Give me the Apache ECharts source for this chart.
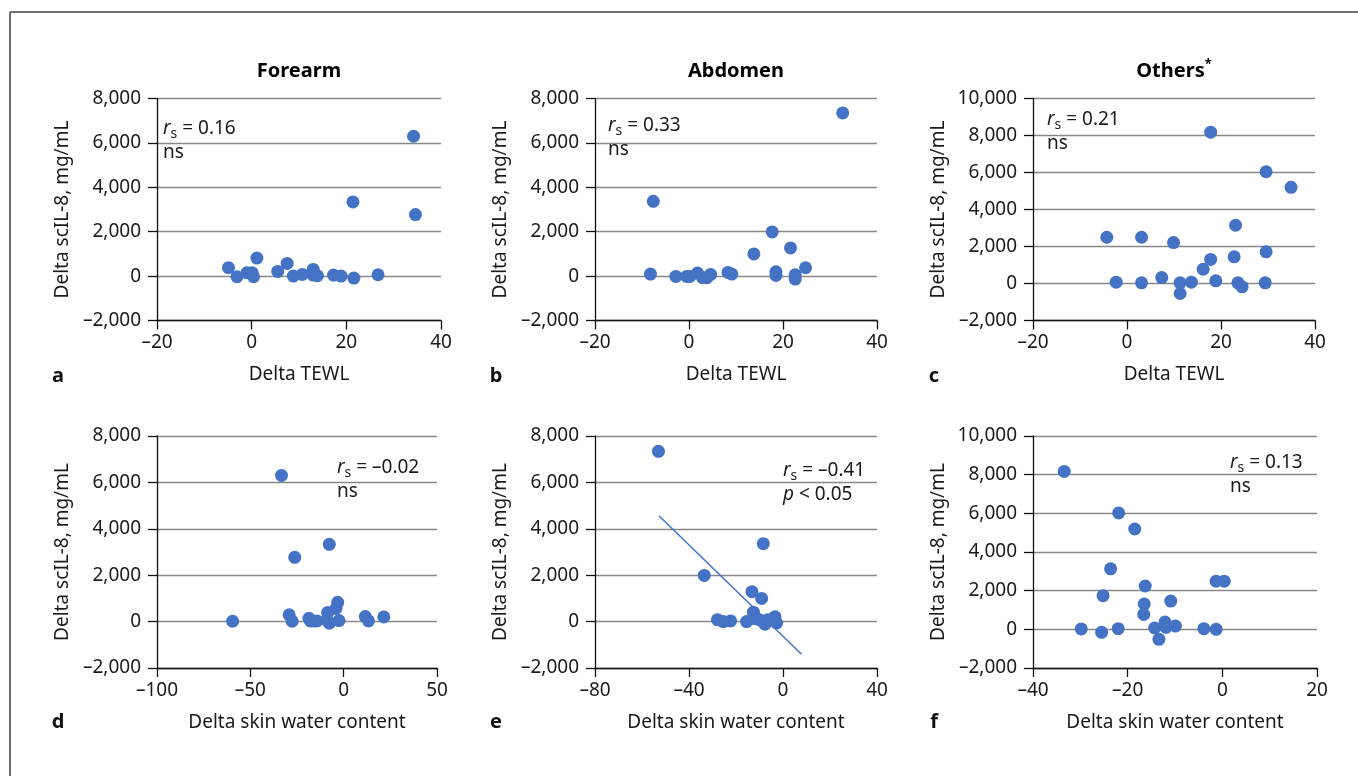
<!DOCTYPE html>
<html><head><meta charset="utf-8">
<script src="https://cdn.jsdelivr.net/npm/echarts@6/dist/echarts.min.js"></script>
<style>html,body{margin:0;padding:0;background:#fff}#c{width:1358px;height:776px}</style>
</head><body><div id="c"></div>
<script>
const FONT = 'Noto Sans';
const BLUE = '#4472c4';

// ---- text ----
const panelTitles = ['Forearm', 'Abdomen', 'Others'];
const panelLetters = ['a', 'b', 'c', 'd', 'e', 'f'];
const xNameTop = 'Delta TEWL';
const xNameBottom = 'Delta skin water content';
const yName = 'Delta scIL-8, mg/mL';
const rsValues = ['0.16', '0.33', '0.21', '\u20130.02', '\u20130.41', '0.13'];
const sigValues = ['ns', 'ns', 'ns', 'ns', 'p', 'ns'];

// ---- axis ranges [min, max, interval] ----
const xRanges = [[-20, 40, 20], [-20, 40, 20], [-20, 40, 20], [-100, 50, 50], [-80, 40, 40], [-40, 20, 20]];
const yRanges = [[-2000, 8000, 2000], [-2000, 8000, 2000], [-2000, 10000, 2000], [-2000, 8000, 2000], [-2000, 8000, 2000], [-2000, 10000, 2000]];

// ---- data [x, y] ----
const forearmTEWL = [[34.2, 6300], [21.4, 3340], [34.6, 2770], [-4.9, 380], [-3.1, -30], [-1.0, 150], [0.1, 150], [0.4, -30], [1.1, 810], [5.5, 210], [7.5, 570], [8.8, 0], [10.7, 75], [13.0, 300], [13.0, 45], [13.9, 15], [17.3, 45], [18.9, 0], [21.6, -90], [26.7, 60]];
const abdomenTEWL = [[32.7, 7350], [-7.6, 3370], [-8.2, 90], [-2.8, -15], [-0.5, -15], [0.2, -15], [1.8, 135], [2.9, -75], [3.8, -75], [4.6, 75], [8.3, 165], [9.1, 90], [13.8, 1000], [17.7, 1990], [18.5, 195], [18.5, 30], [21.6, 1270], [22.6, 60], [22.6, -135], [24.8, 375]];
const othersTEWL = [[17.8, 8180], [29.6, 6040], [34.9, 5200], [23.1, 3150], [-4.3, 2500], [3.1, 2500], [9.9, 2210], [29.6, 1710], [17.8, 1300], [22.8, 1440], [16.2, 770], [-2.3, 70], [3.1, 35], [7.4, 320], [11.3, 35], [11.3, -540], [13.7, 70], [18.9, 145], [23.6, 35], [24.5, -180], [29.4, 35]];
const forearmSWC = [[-33.3, 6300], [-7.7, 3330], [-26.2, 2770], [-59.5, 15], [-29.2, 290], [-27.6, 15], [-18.6, 145], [-17.9, 30], [-16.1, 30], [-14.3, 30], [-8.6, 390], [-7.7, -70], [-9.0, 70], [-4.1, 570], [-3.2, 830], [-2.5, 45], [11.6, 215], [13.3, 30], [21.5, 200]];
const abdomenSWC = [[-53.0, 7340], [-8.4, 3360], [-33.5, 1990], [-13.2, 1290], [-9.1, 1000], [-12.6, 405], [-27.9, 85], [-25.4, 0], [-22.3, 30], [-15.5, 0], [-12.6, 130], [-10.2, 85], [-7.7, -115], [-6.5, 85], [-3.4, 205], [-2.7, -60]];
const othersSWC = [[-33.4, 8170], [-21.9, 6020], [-18.5, 5190], [-23.6, 3130], [-25.2, 1740], [-16.3, 2240], [-16.5, 1310], [-16.6, 770], [-10.9, 1460], [-1.3, 2490], [0.4, 2490], [-29.8, 20], [-25.5, -155], [-22.0, 35], [-14.3, 70], [-13.4, -515], [-12.1, 380], [-11.9, 105], [-9.9, 170], [-3.9, 35], [-1.3, 0]];
const abdomenSWCTrend = [[-52.8, 4560], [7.9, -1410]];

const panelData = [forearmTEWL, abdomenTEWL, othersTEWL, forearmSWC, abdomenSWC, othersSWC];

// ---- layout ----
const grids = [
  { left: 157, top: 98.5, width: 284, height: 222 },
  { left: 595, top: 98.5, width: 282, height: 222 },
  { left: 1033, top: 98.5, width: 282, height: 222 },
  { left: 157, top: 436, width: 280, height: 232 },
  { left: 595, top: 436, width: 282, height: 232 },
  { left: 1033, top: 436, width: 284, height: 232 }
];
const annPos = [[163, 117], [608, 114], [1047, 108], [337, 456], [783, 459], [1230, 451]];
const letterPos = [[58, 376], [496, 376], [934, 376], [58, 722], [496, 722], [934, 722]];

const fmt = v => (v < 0 ? '\u2013' : '') + Math.abs(v).toLocaleString('en-US');
const TXT = '#1a1a1a';
const FS = 19;

const xAxes = grids.map((g, i) => ({
  type: 'value', gridIndex: i,
  min: xRanges[i][0], max: xRanges[i][1], interval: xRanges[i][2],
  axisLine: { show: true, onZero: false, lineStyle: { color: '#111', width: 1.3 } },
  axisTick: { show: true, length: 9, lineStyle: { color: '#111', width: 1.3 } },
  splitLine: { show: false },
  axisLabel: { fontSize: FS, color: TXT, fontFamily: FONT, margin: 13, formatter: fmt },
  name: i < 3 ? xNameTop : xNameBottom, nameLocation: 'middle', nameGap: 45,
  nameTextStyle: { fontSize: FS, color: TXT, fontFamily: FONT }
}));
const yAxes = grids.map((g, i) => ({
  type: 'value', gridIndex: i,
  min: yRanges[i][0], max: yRanges[i][1], interval: yRanges[i][2],
  axisLine: { show: true, onZero: false, lineStyle: { color: '#111', width: 1.3 } },
  axisTick: { show: true, length: 9, lineStyle: { color: '#111', width: 1.3 } },
  splitLine: { show: true, lineStyle: { color: '#888', width: 1.4 } },
  axisLabel: { fontSize: FS, color: TXT, fontFamily: FONT, margin: 16, formatter: fmt },
  name: yName, nameLocation: 'middle', nameGap: 85,
  nameTextStyle: { fontSize: FS, color: TXT, fontFamily: FONT }
}));

const series = panelData.map((d, i) => ({
  type: 'scatter', xAxisIndex: i, yAxisIndex: i, data: d,
  symbolSize: 13, itemStyle: { color: BLUE, opacity: 1 }, z: 3
}));
series.push({
  type: 'line', xAxisIndex: 4, yAxisIndex: 4, data: abdomenSWCTrend,
  showSymbol: false, symbol: 'none', lineStyle: { color: BLUE, width: 1.5 }, z: 2
});

const richAnn = {
  i: { fontStyle: 'italic', fontSize: FS, lineHeight: 24, fontFamily: FONT, color: TXT },
  s: { fontSize: 14, lineHeight: 14, verticalAlign: 'bottom', fontFamily: FONT, color: TXT },
  n: { fontSize: FS, lineHeight: 24, fontFamily: FONT, color: TXT }
};

const graphics = [
  { type: 'line', shape: { x1: 10, y1: 12, x2: 1358, y2: 12 }, style: { stroke: '#6e6e6e', lineWidth: 2 } },
  { type: 'line', shape: { x1: 10, y1: 12, x2: 10, y2: 776 }, style: { stroke: '#6e6e6e', lineWidth: 2 } }
];
panelTitles.forEach((t, i) => {
  const g = grids[i];
  graphics.push({
    type: 'text', x: g.left + g.width / 2, y: 71,
    style: {
      text: i === 2 ? '{b|' + t + '}{sup|*}' : '{b|' + t + '}',
      align: 'center', verticalAlign: 'middle',
      rich: {
        b: { fontSize: 20, fontWeight: 'bold', fontFamily: FONT, color: '#111', lineHeight: 26 },
        sup: { fontSize: 13, fontWeight: 'bold', fontFamily: FONT, color: '#111', lineHeight: 13, verticalAlign: 'top' }
      }
    }
  });
});
panelLetters.forEach((l, i) => {
  graphics.push({
    type: 'text', x: letterPos[i][0], y: letterPos[i][1],
    style: { text: l, fontSize: 20, fontWeight: 'bold', fontFamily: FONT, fill: '#111', align: 'center', verticalAlign: 'middle' }
  });
});
rsValues.forEach((r, i) => {
  const second = sigValues[i] === 'p' ? '{i|p}{n| < 0.05}' : '{n|' + sigValues[i] + '}';
  graphics.push({
    type: 'text', x: annPos[i][0], y: annPos[i][1],
    style: { text: '{i|r}{s|s}{n| = ' + r + '}\n' + second, align: 'left', verticalAlign: 'top', rich: richAnn, fill: TXT },
    z: 10
  });
});

const chart = echarts.init(document.getElementById('c'), null, { renderer: 'canvas' });
chart.setOption({
  backgroundColor: '#fff',
  animation: false,
  textStyle: { fontFamily: FONT },
  grid: grids,
  xAxis: xAxes,
  yAxis: yAxes,
  series: series,
  graphic: graphics
});
</script>
</body></html>
